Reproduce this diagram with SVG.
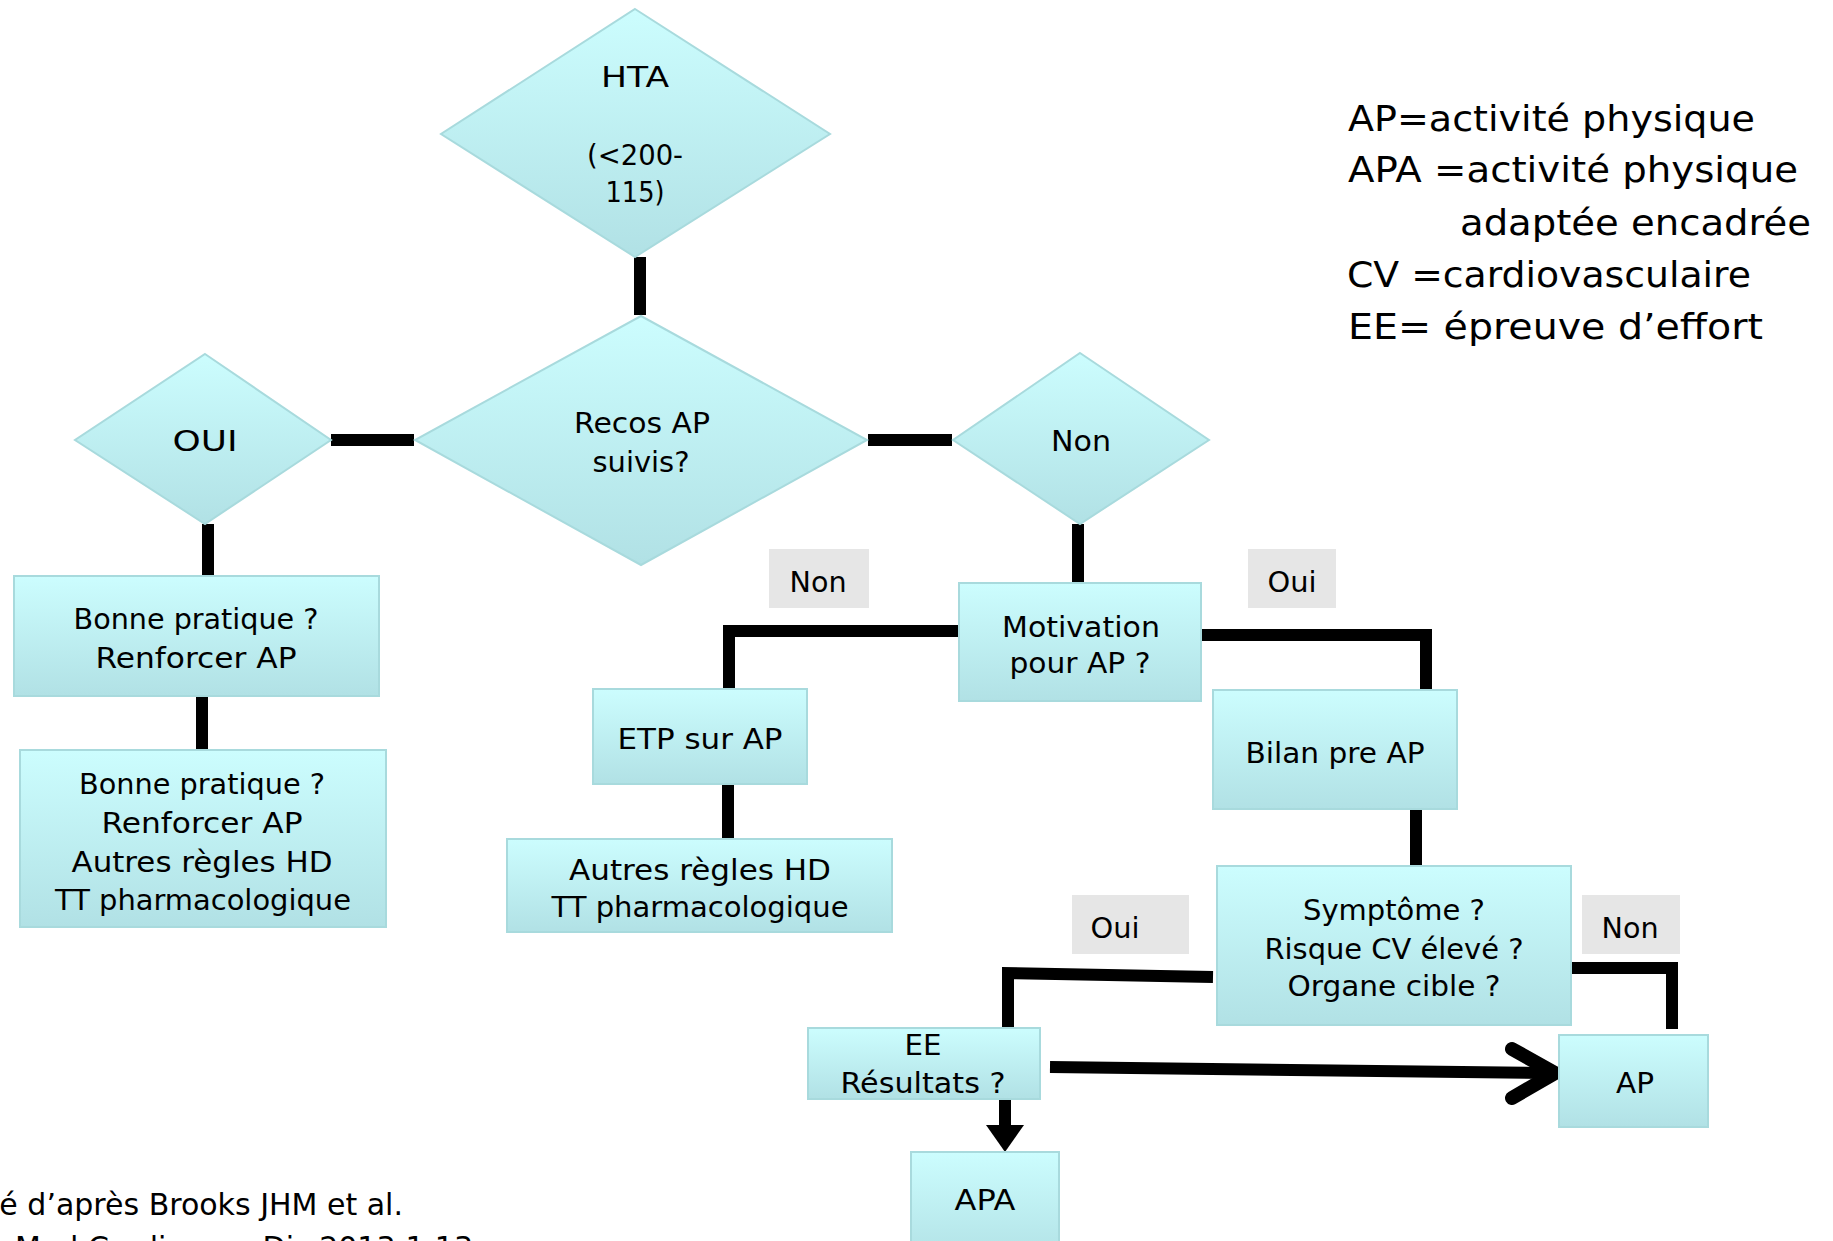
<svg xmlns="http://www.w3.org/2000/svg" width="1833" height="1241" viewBox="0 0 1833 1241">
<defs>
<linearGradient id="g" x1="0" y1="0" x2="0" y2="1">
<stop offset="0" stop-color="#CCFDFE"/>
<stop offset="1" stop-color="#B1E1E5"/>
</linearGradient>
<style>
.n{fill:url(#g);stroke:#A8DADD;stroke-width:2}
.lb{fill:#E6E6E6}
text{font-family:"DejaVu Sans","Open Sans",sans-serif;font-size:28px;fill:#000;text-anchor:middle}
.lg{font-size:36px;text-anchor:start}
.ft{font-size:30px;text-anchor:end}
.c{fill:none;stroke:#000;stroke-width:12;stroke-linejoin:miter;stroke-linecap:butt}
</style>
</defs>
<rect width="1833" height="1241" fill="#fff"/>

<g id="connectors">
<line class="c" x1="640" y1="257" x2="640" y2="315" stroke-width="13"/>
<line class="c" x1="331" y1="440" x2="414" y2="440"/>
<line class="c" x1="868" y1="440" x2="952" y2="440"/>
<line class="c" x1="208" y1="524" x2="208" y2="577"/>
<line class="c" x1="202" y1="696" x2="202" y2="750"/>
<line class="c" x1="1078" y1="524" x2="1078" y2="583"/>
<polyline class="c" points="959,631 729,631 729,689"/>
<polyline class="c" points="1201,635 1426,635 1426,690"/>
<line class="c" x1="728" y1="784" x2="728" y2="839"/>
<line class="c" x1="1416" y1="809" x2="1416" y2="866"/>
<polyline class="c" points="1213,977 1008,973 1008,1028"/>
<polyline class="c" points="1571,968 1672,968 1672,1029"/>
<line class="c" x1="1050" y1="1067" x2="1550" y2="1073" stroke-width="14"/>
<polyline points="1512,1049 1555,1073 1512,1098" fill="none" stroke="#000" stroke-width="14" stroke-linecap="round" stroke-linejoin="miter"/>
<line class="c" x1="1005" y1="1099" x2="1005" y2="1128"/>
<polygon points="986,1125 1024,1125 1005,1152" fill="#000"/>
</g>

<g id="hta">
<polygon class="n" points="635,9 830,134 635,257 441,134"/>
<text x="635" y="87" textLength="68" lengthAdjust="spacingAndGlyphs">HTA</text>
<text x="635" y="165" textLength="96" lengthAdjust="spacingAndGlyphs">(&lt;200-</text>
<text x="635" y="202" textLength="59" lengthAdjust="spacingAndGlyphs">115)</text>
</g>

<g id="recos">
<polygon class="n" points="641,316 867,440 641,565 415,440"/>
<text x="642" y="433" textLength="136" lengthAdjust="spacingAndGlyphs">Recos AP</text>
<text x="641" y="472" textLength="97" lengthAdjust="spacingAndGlyphs">suivis?</text>
</g>

<g id="oui">
<polygon class="n" points="205,354 331,440 205,524 75,440"/>
<text x="205" y="451" textLength="65" lengthAdjust="spacingAndGlyphs">OUI</text>
</g>

<g id="non">
<polygon class="n" points="1080,353 1209,440 1080,524 953,440"/>
<text x="1081" y="451" textLength="60" lengthAdjust="spacingAndGlyphs">Non</text>
</g>

<g id="box1">
<rect class="n" x="14" y="576" width="365" height="120"/>
<text x="196" y="629" textLength="245" lengthAdjust="spacingAndGlyphs">Bonne pratique ?</text>
<text x="196" y="668" textLength="201" lengthAdjust="spacingAndGlyphs">Renforcer AP</text>
</g>

<g id="box2">
<rect class="n" x="20" y="750" width="366" height="177"/>
<text x="202" y="794" textLength="246" lengthAdjust="spacingAndGlyphs">Bonne pratique ?</text>
<text x="202" y="833" textLength="201" lengthAdjust="spacingAndGlyphs">Renforcer AP</text>
<text x="202" y="872" textLength="261" lengthAdjust="spacingAndGlyphs">Autres règles HD</text>
<text x="203" y="910" textLength="296" lengthAdjust="spacingAndGlyphs">TT pharmacologique</text>
</g>

<g id="label-non1">
<rect class="lb" x="769" y="549" width="100" height="59"/>
<text x="818" y="592" textLength="57" lengthAdjust="spacingAndGlyphs">Non</text>
</g>
<g id="label-oui1">
<rect class="lb" x="1248" y="549" width="88" height="59"/>
<text x="1292" y="592" textLength="49" lengthAdjust="spacingAndGlyphs">Oui</text>
</g>

<g id="motivation">
<rect class="n" x="959" y="583" width="242" height="118"/>
<text x="1081" y="637" textLength="158" lengthAdjust="spacingAndGlyphs">Motivation</text>
<text x="1080" y="673" textLength="141" lengthAdjust="spacingAndGlyphs">pour AP ?</text>
</g>

<g id="etp">
<rect class="n" x="593" y="689" width="214" height="95"/>
<text x="700" y="749" textLength="165" lengthAdjust="spacingAndGlyphs">ETP sur AP</text>
</g>

<g id="autres">
<rect class="n" x="507" y="839" width="385" height="93"/>
<text x="700" y="880" textLength="262" lengthAdjust="spacingAndGlyphs">Autres règles HD</text>
<text x="700" y="917" textLength="297" lengthAdjust="spacingAndGlyphs">TT pharmacologique</text>
</g>

<g id="bilan">
<rect class="n" x="1213" y="690" width="244" height="119"/>
<text x="1335" y="763" textLength="179" lengthAdjust="spacingAndGlyphs">Bilan pre AP</text>
</g>

<g id="symptome">
<rect class="n" x="1217" y="866" width="354" height="159"/>
<text x="1394" y="920" textLength="182" lengthAdjust="spacingAndGlyphs">Symptôme ?</text>
<text x="1394" y="959" textLength="259" lengthAdjust="spacingAndGlyphs">Risque CV élevé ?</text>
<text x="1394" y="996" textLength="213" lengthAdjust="spacingAndGlyphs">Organe cible ?</text>
</g>

<g id="label-oui2">
<rect class="lb" x="1072" y="895" width="117" height="59"/>
<text x="1115" y="938" textLength="49" lengthAdjust="spacingAndGlyphs">Oui</text>
</g>
<g id="label-non2">
<rect class="lb" x="1582" y="895" width="98" height="59"/>
<text x="1630" y="938" textLength="57" lengthAdjust="spacingAndGlyphs">Non</text>
</g>

<g id="ee">
<rect class="n" x="808" y="1028" width="232" height="71"/>
<text x="923" y="1055" textLength="37" lengthAdjust="spacingAndGlyphs">EE</text>
<text x="923" y="1093" textLength="165" lengthAdjust="spacingAndGlyphs">Résultats ?</text>
</g>

<g id="ap">
<rect class="n" x="1559" y="1035" width="149" height="92"/>
<text x="1635" y="1093" textLength="38" lengthAdjust="spacingAndGlyphs">AP</text>
</g>

<g id="apa">
<rect class="n" x="911" y="1152" width="148" height="110"/>
<text x="985" y="1210" textLength="61" lengthAdjust="spacingAndGlyphs">APA</text>
</g>

<g id="legend">
<text class="lg" x="1348" y="131" textLength="407" lengthAdjust="spacingAndGlyphs">AP=activité physique</text>
<text class="lg" x="1348" y="182" textLength="450" lengthAdjust="spacingAndGlyphs">APA =activité physique</text>
<text class="lg" x="1460" y="235" textLength="351" lengthAdjust="spacingAndGlyphs">adaptée encadrée</text>
<text class="lg" x="1347" y="287" textLength="404" lengthAdjust="spacingAndGlyphs">CV =cardiovasculaire</text>
<text class="lg" x="1348" y="339" textLength="415" lengthAdjust="spacingAndGlyphs">EE= épreuve d’effort</text>
</g>

<g id="footer">
<text class="ft" x="403" y="1215">Adapté d’après Brooks JHM et al.</text>
<text class="ft" x="473" y="1258">ne Med Cardiovasc Dis 2013;1:13</text>
</g>
</svg>
